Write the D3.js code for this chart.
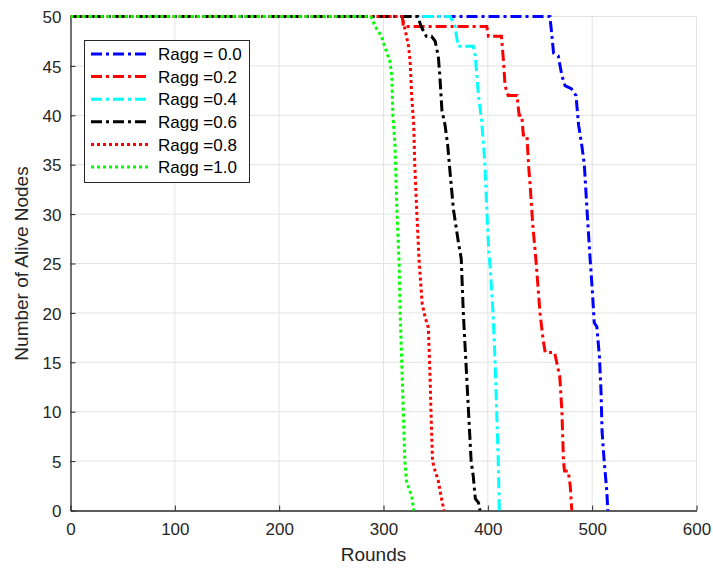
<!DOCTYPE html>
<html>
<head>
<meta charset="utf-8">
<script src="https://cdn.jsdelivr.net/npm/d3@7"></script>
<style>
body{margin:0;background:#fff;}
svg{display:block;font-family:"Liberation Sans",Arial,Helvetica,sans-serif;}
</style>
</head>
<body>
<svg id="chart" width="713" height="569"></svg>
<script>
// ---- data (rounds, alive nodes) ----
const ragg00 = [[0,50],[459.5,50],[461,48.5],[463,46.3],[467.5,46],[471,44],[474,43],[480,42.7],[484.5,42],[487,39],[490,37],[492.5,35],[495,30.5],[498,25.5],[500,22.5],[502,19],[504.5,18.6],[507,15.5],[508.5,12],[509.5,8],[511.5,5],[514,2],[515,0]];
const ragg02 = [[0,50],[318,50],[319,49],[399,49],[400.5,48],[413,48],[415,45.5],[416.5,43],[419.5,42],[428,42],[430,40],[432.5,40],[434,38],[437.5,38],[439,35],[440.5,33],[443,29],[446,25.5],[450,20],[453,17.3],[455,16],[464,16],[466,15],[469,13.5],[471,10],[472.5,5],[473.5,4],[477,4],[479,2.5],[480.5,0]];
const ragg04 = [[0,50],[364,50],[368.5,49],[371.5,47],[386,47],[388,46],[391,42],[394,39.5],[397,35.5],[399,30.5],[401,26],[402,25],[405,20],[407,15],[408.5,10],[410,5],[411,0]];
const ragg06 = [[0,50],[333,50],[336,49],[341,48],[346,48],[349.5,47.5],[352.5,46],[354,44],[356,40.5],[359,39],[361.5,37],[364,34],[367,30.5],[372,27],[374.5,25.5],[376.5,20],[379,15],[381.5,10],[384,5],[386,3.5],[388,1.2],[391,0.8],[392.5,0]];
const ragg08 = [[0,50],[318,50],[320,49],[324,47],[325.5,45.5],[327,42],[329,39],[330,35],[332,30],[334,25.5],[337,21],[340,19.5],[343,18.5],[344.5,14],[345.5,10],[347,5],[349.5,4],[352.5,3],[356,1],[358,0]];
const ragg10 = [[0,50],[288,50],[292,49],[298,48],[301,47],[306,45.5],[308,44],[309,40],[311,37],[313,30],[315,25],[316,20],[317.5,15],[319,10],[320.5,5],[322,3],[325,2],[327,1.5],[329,0]];

const seriesNames = ["Ragg = 0.0","Ragg =0.2","Ragg =0.4","Ragg =0.6","Ragg =0.8","Ragg =1.0"];
const seriesData = [ragg00, ragg02, ragg04, ragg06, ragg08, ragg10];
const seriesColors = ["#0000ff","#ff0000","#00ffff","#000000","#ff0000","#00ff00"];
const seriesDash = ["11,4,3,4","11,4,3,4","11,4,3,4","11,4,3,4","3,3","3,3"];
const xTicks = [0,100,200,300,400,500,600];
const yTicks = [0,5,10,15,20,25,30,35,40,45,50];

// ---- layout ----
const svg = d3.select("#chart");
const L = 70.5, R = 696.5, T = 16.5, B = 510.5;
const x = d3.scaleLinear().domain([0,600]).range([L,R]);
const y = d3.scaleLinear().domain([0,50]).range([B,T]);

// grid
const grid = svg.append("g");
grid.selectAll("line.v").data(xTicks.slice(1)).join("line")
  .attr("x1",d=>x(d)).attr("x2",d=>x(d)).attr("y1",T).attr("y2",B)
  .attr("stroke","#e3e3e3").attr("stroke-width",1);
grid.selectAll("line.h").data(yTicks.slice(1)).join("line")
  .attr("y1",d=>y(d)).attr("y2",d=>y(d)).attr("x1",L).attr("x2",R)
  .attr("stroke","#e3e3e3").attr("stroke-width",1);

// axes
const axCol = "#262626";
const xAxis = svg.append("g").attr("transform",`translate(0,${B})`)
  .call(d3.axisBottom(x).tickValues(xTicks).tickSizeInner(-5).tickSizeOuter(0).tickPadding(12));
const yAxis = svg.append("g").attr("transform",`translate(${L},0)`)
  .call(d3.axisLeft(y).tickValues(yTicks).tickSizeInner(-5).tickSizeOuter(0).tickPadding(9));
[xAxis,yAxis].forEach(a=>{
  a.select(".domain").attr("stroke",axCol).attr("stroke-width",1.3);
  a.selectAll(".tick line").attr("stroke",axCol).attr("stroke-width",1);
  a.selectAll(".tick text").attr("fill",axCol).attr("font-size",17)
    .attr("font-family","'Liberation Sans',Arial,sans-serif");
});
yAxis.selectAll(".tick text").attr("dy","0.36em");

// axis labels
svg.append("text").attr("x",(L+R)/2-10).attr("y",561).attr("text-anchor","middle")
  .attr("font-size",19).attr("fill",axCol).text("Rounds");
svg.append("text").attr("transform",`translate(28,${(T+B)/2}) rotate(-90)`)
  .attr("text-anchor","middle").attr("font-size",19).attr("fill",axCol).text("Number of Alive Nodes");

// lines (drawn in series order, last on top)
const line = d3.line().x(d=>x(d[0])).y(d=>y(d[1]));
const lines = svg.append("g");
seriesData.forEach((s,i)=>{
  lines.append("path").datum(s).attr("d",line)
    .attr("fill","none").attr("stroke",seriesColors[i])
    .attr("stroke-width",3).attr("stroke-dasharray",seriesDash[i]);
});

// legend
const lg = svg.append("g");
lg.append("rect").attr("x",84.5).attr("y",40.5).attr("width",165).attr("height",142)
  .attr("fill","#fff").attr("stroke","#262626").attr("stroke-width",1);
seriesNames.forEach((n,i)=>{
  const yy = 54 + i*22.6;
  lg.append("line").attr("x1",91).attr("x2",148).attr("y1",yy).attr("y2",yy)
    .attr("stroke",seriesColors[i]).attr("stroke-width",3).attr("stroke-dasharray",seriesDash[i]);
  lg.append("text").attr("x",158).attr("y",yy).attr("dy","0.36em")
    .attr("font-size",17).attr("fill","#000").text(n);
});
</script>
</body>
</html>
